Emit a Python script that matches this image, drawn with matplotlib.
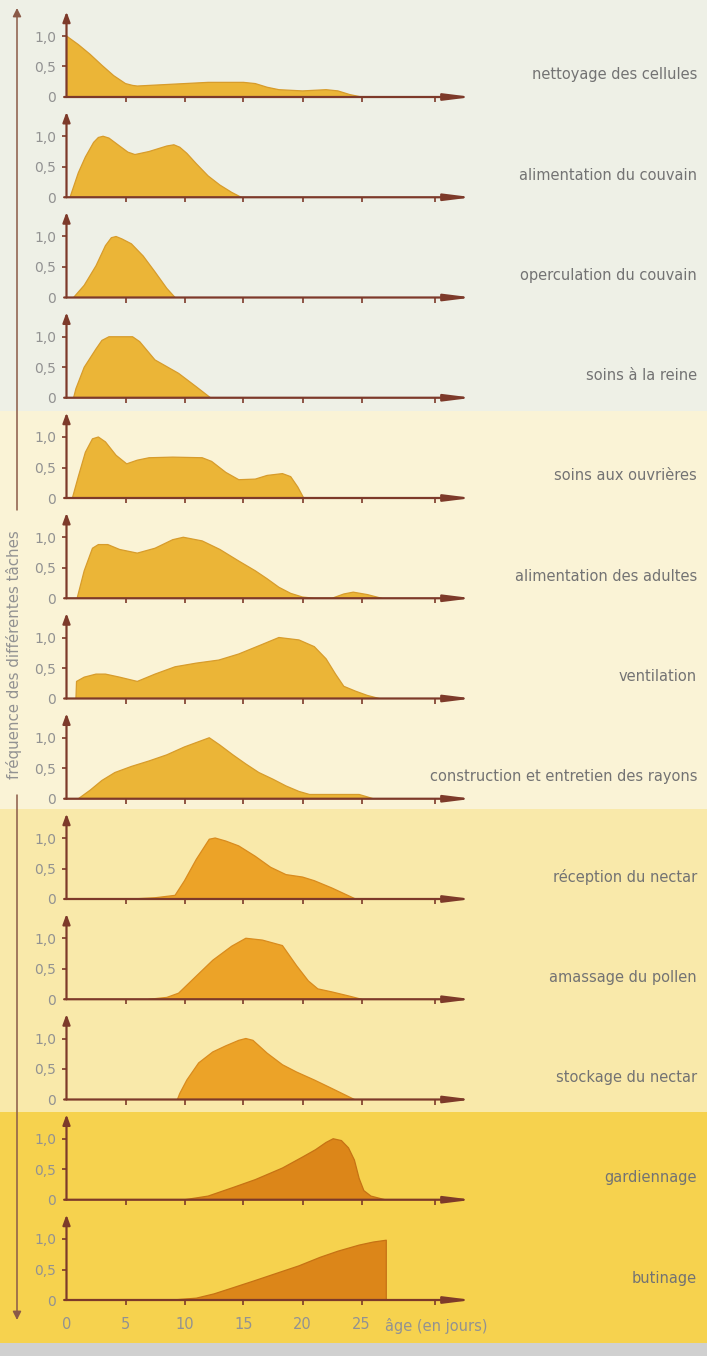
import matplotlib
matplotlib.use("Agg")
import matplotlib.pyplot as plt
from matplotlib.patches import Rectangle, FancyArrowPatch

plt.rcParams['font.family'] = ['DejaVu Sans']

W, H = 707, 1356

# ---------------- data (day, frequency) ----------------
tasks = ["nettoyage des cellules", "alimentation du couvain", "operculation du couvain",
         "soins à la reine", "soins aux ouvrières", "alimentation des adultes", "ventilation",
         "construction et entretien des rayons", "réception du nectar", "amassage du pollen",
         "stockage du nectar", "gardiennage", "butinage"]

x_nettoyage = [0, 1, 2, 3, 4, 5, 5.6, 6, 8, 10, 12, 15, 16, 17, 18, 20, 22, 23, 24, 25]
y_nettoyage = [1.0, 0.86, 0.7, 0.52, 0.35, 0.22, 0.19, 0.18, 0.2, 0.22, 0.24, 0.24, 0.22, 0.16, 0.12, 0.1, 0.12, 0.1, 0.04, 0]

x_alim_couvain = [0.3, 1, 1.6, 2.3, 2.7, 3.1, 3.6, 4.5, 5.2, 5.8, 7, 8.5, 9.1, 9.6, 10.2, 11, 12, 13, 14, 14.8]
y_alim_couvain = [0, 0.4, 0.66, 0.9, 0.98, 1.0, 0.97, 0.84, 0.74, 0.7, 0.75, 0.84, 0.86, 0.82, 0.72, 0.55, 0.35, 0.2, 0.08, 0]

x_operculation = [0.6, 1.5, 2.5, 3.3, 3.8, 4.2, 4.7, 5.5, 6.5, 7.5, 8.5, 9.2]
y_operculation = [0, 0.2, 0.52, 0.85, 0.98, 1.0, 0.96, 0.88, 0.68, 0.42, 0.15, 0]

x_reine = [0.6, 0.8, 1.5, 2.5, 3.0, 3.6, 5.6, 6.2, 7.5, 9.5, 11, 12.2]
y_reine = [0, 0.15, 0.5, 0.8, 0.94, 1.0, 1.0, 0.92, 0.62, 0.4, 0.18, 0]

x_ouvrieres = [0.5, 1, 1.6, 2.2, 2.7, 3.3, 4.2, 5.1, 6, 7, 9, 11.5, 12.3, 13.5, 14.6, 16, 17, 18.3, 19, 19.6, 20.1]
y_ouvrieres = [0, 0.35, 0.75, 0.97, 1.0, 0.92, 0.7, 0.56, 0.62, 0.66, 0.67, 0.66, 0.6, 0.42, 0.3, 0.31, 0.37, 0.4, 0.35, 0.18, 0]

x_alim_adultes = [0.9, 1.5, 2.2, 2.7, 3.5, 4.5, 6, 7.5, 9, 9.9, 11.5, 13, 14.6, 16, 17, 18, 19, 20, 21, 22.5, 23.5, 24.3, 25.5, 26.7]
y_alim_adultes = [0, 0.45, 0.82, 0.88, 0.88, 0.8, 0.74, 0.82, 0.96, 1.0, 0.94, 0.8, 0.61, 0.45, 0.32, 0.18, 0.08, 0.02, 0, 0, 0.07, 0.1, 0.06, 0]

x_ventilation = [0.8, 0.85, 1.5, 2.5, 3.3, 4.5, 6, 7.5, 9.2, 11, 12.9, 14.6, 16.5, 18, 19.7, 21, 22, 22.8, 23.5, 24.5, 25.5, 26.5]
y_ventilation = [0, 0.28, 0.35, 0.4, 0.4, 0.35, 0.28, 0.4, 0.52, 0.58, 0.63, 0.73, 0.88, 1.0, 0.96, 0.85, 0.65, 0.4, 0.2, 0.12, 0.05, 0]

x_construction = [1, 2, 3, 4.1, 5.5, 7, 8.5, 10, 12.1, 13, 14.1, 15.2, 16.3, 17.5, 18.6, 19.7, 20.6, 22, 24.8, 25.5, 26]
y_construction = [0, 0.14, 0.3, 0.43, 0.53, 0.62, 0.72, 0.85, 1.0, 0.88, 0.72, 0.57, 0.43, 0.32, 0.21, 0.12, 0.07, 0.07, 0.07, 0.03, 0]

x_reception = [5.5, 7.5, 9.2, 10, 11, 12.1, 12.6, 13.5, 14.6, 16, 17.3, 18.6, 20, 21, 22.5, 24.5]
y_reception = [0, 0.02, 0.06, 0.3, 0.65, 0.98, 1.0, 0.95, 0.87, 0.7, 0.52, 0.4, 0.36, 0.3, 0.18, 0]

x_pollen = [7, 8.5, 9.5, 11, 12.4, 14, 15.2, 16.6, 18.3, 19.5, 20.5, 21.3, 22.5, 24, 25]
y_pollen = [0, 0.03, 0.1, 0.38, 0.64, 0.87, 1.0, 0.97, 0.88, 0.55, 0.3, 0.17, 0.12, 0.05, 0]

x_stockage = [9.4, 9.6, 10.2, 11.2, 12.4, 13.5, 14.6, 15.2, 15.8, 17, 18.3, 19.5, 21, 22.5, 24.4]
y_stockage = [0, 0.1, 0.32, 0.6, 0.78, 0.88, 0.97, 1.0, 0.97, 0.76, 0.57, 0.45, 0.32, 0.18, 0]

x_gardiennage = [10, 12, 14.1, 16, 18.3, 20, 21.1, 22, 22.6, 23.3, 23.9, 24.4, 24.8, 25.2, 25.8, 27]
y_gardiennage = [0, 0.06, 0.2, 0.33, 0.52, 0.7, 0.82, 0.94, 1.0, 0.97, 0.85, 0.65, 0.35, 0.15, 0.06, 0]

x_butinage = [9, 11, 12.5, 14.1, 16, 18, 19.7, 21.5, 23, 24.8, 26, 27.1, 27.1]
y_butinage = [0, 0.03, 0.1, 0.2, 0.32, 0.45, 0.56, 0.7, 0.8, 0.9, 0.95, 0.98, 0]

series = [(x_nettoyage, y_nettoyage), (x_alim_couvain, y_alim_couvain),
          (x_operculation, y_operculation), (x_reine, y_reine),
          (x_ouvrieres, y_ouvrieres), (x_alim_adultes, y_alim_adultes),
          (x_ventilation, y_ventilation), (x_construction, y_construction),
          (x_reception, y_reception), (x_pollen, y_pollen),
          (x_stockage, y_stockage), (x_gardiennage, y_gardiennage),
          (x_butinage, y_butinage)]

x_ticks = [0, 5, 10, 15, 20, 25]
x_ticklabels = ["0", "5", "10", "15", "20", "25"]
y_ticks = [0, 0.5, 1.0]
y_ticklabels = ["0", "0,5", "1,0"]

# ---------------- styling ----------------
axis_col = "#7d3a2a"
grey_txt = "#929292"
label_txt = "#737373"
fills = ["#ebb537"] * 8 + ["#eca328"] * 3 + ["#dc8619"] * 2
edges = ["#d79c2c"] * 8 + ["#d98b1e"] * 3 + ["#c67214"] * 2

fig = plt.figure(figsize=(W / 100, H / 100), dpi=100)
fig.patch.set_facecolor("white")

def fy(py):
    return 1 - py / H

# background bands
bands = [(0, 411, "#eef0e6"), (411, 809, "#faf3d6"), (809, 1112, "#f9e9aa"), (1112, 1343, "#f6d24e")]
for y0, y1, c in bands:
    fig.add_artist(Rectangle((0, fy(y1)), 1, (y1 - y0) / H, transform=fig.transFigure,
                             facecolor=c, edgecolor="none", zorder=0))
fig.add_artist(Rectangle((0, 0), 1, 13 / H, transform=fig.transFigure,
                         facecolor="#d0d0d0", edgecolor="none", zorder=0))

x0_px = 66.5
px_per_day = 11.8
xmax = 34.4
ymax = 1.42
px_per_unit = 61.0
baseline0 = 97.0
step = 100.25

for i, ((xs, ys), name) in enumerate(zip(series, tasks)):
    b = baseline0 + i * step
    ax = fig.add_axes([x0_px / W, fy(b), xmax * px_per_day / W, ymax * px_per_unit / H])
    ax.set_xlim(0, xmax)
    ax.set_ylim(0, ymax)
    ax.patch.set_visible(False)
    for s in ax.spines.values():
        s.set_visible(False)
    ax.fill_between(xs, ys, 0, facecolor=fills[i], edgecolor="none", zorder=2)
    ax.plot(xs, ys, color=edges[i], lw=0.9, zorder=3, solid_joinstyle="round")
    # axes with arrows
    ax.annotate("", xy=(0, 1.40), xytext=(0, 0),
                arrowprops=dict(arrowstyle="-|>,head_length=0.6,head_width=0.22",
                                color=axis_col, lw=1.6, shrinkA=0, shrinkB=0), zorder=4,
                annotation_clip=False)
    ax.annotate("", xy=(xmax, 0), xytext=(-0.2, 0),
                arrowprops=dict(arrowstyle="-|>,head_length=1.6,head_width=0.2",
                                color=axis_col, lw=1.6, shrinkA=0, shrinkB=0), zorder=4,
                annotation_clip=False)
    ax.set_yticks(y_ticks)
    ax.set_yticklabels(y_ticklabels)
    ax.tick_params(axis="y", length=3.5, width=1.2, color=axis_col, pad=4,
                   labelsize=10, labelcolor=grey_txt)
    ax.yaxis.get_major_ticks()[0].tick1line.set_visible(False)
    ax.set_xticks(x_ticks[1:] + [31.2])
    ax.tick_params(axis="x", length=3.5, width=1.2, color=axis_col, direction="out",
                   labelsize=10.5, labelcolor=grey_txt, pad=9)
    if i == len(series) - 1:
        ax.set_xticks(x_ticks + [31.2])
        ax.set_xticklabels(x_ticklabels + [""])
        ax.xaxis.get_major_ticks()[0].tick1line.set_visible(False)
        ax.text(27.0, -0.42, "âge (en jours)", fontsize=10.5, color=grey_txt,
                ha="left", va="center")
    else:
        ax.set_xticklabels([""] * 6)
    fig.text(697 / W, fy(b - 22), name, ha="right", va="center",
             fontsize=10.5, color=label_txt)

# long left axis with label
fig.add_artist(FancyArrowPatch((17 / W, fy(510)), (17 / W, fy(8)), transform=fig.transFigure,
                               arrowstyle="-|>,head_length=5,head_width=2.5",
                               color="#8a5a48", lw=1.1, shrinkA=0, shrinkB=0))
fig.add_artist(FancyArrowPatch((17 / W, fy(795)), (17 / W, fy(1320)), transform=fig.transFigure,
                               arrowstyle="-|>,head_length=5,head_width=2.5",
                               color="#8a5a48", lw=1.1, shrinkA=0, shrinkB=0))
fig.text(14 / W, fy(655), "fréquence des différentes tâches", rotation=90,
         ha="center", va="center", fontsize=10.8, color=grey_txt)

fig.savefig("out.png", dpi=100)
